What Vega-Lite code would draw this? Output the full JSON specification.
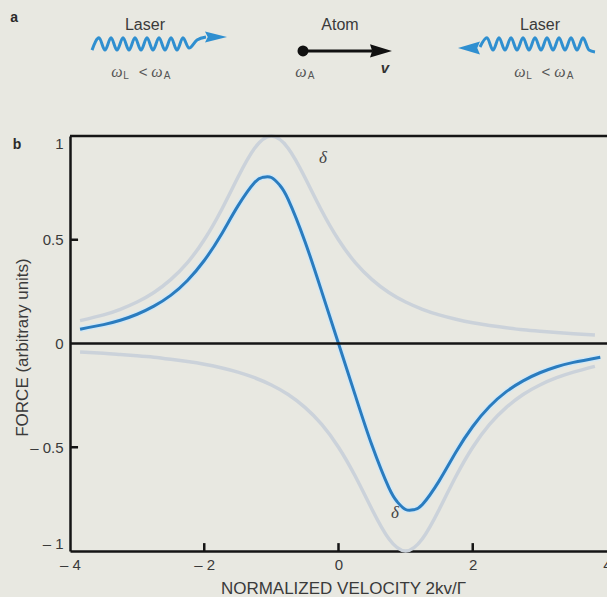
{
  "$schema": "https://vega.github.io/schema/vega-lite/v6.json",
  "autosize": {"type": "none"},
  "padding": {"left": 70, "top": 136, "right": 0, "bottom": 46},
  "width": 537,
  "height": 415,
  "background": "#e8e8e1",
  "config": {"view": {"stroke": null}, "font": "Liberation Sans"},
  "datasets": {
    "curves": [
      {"v": -3.85, "f": 0.110, "c": "plus"}, {"v": -3.5, "f": 0.138, "c": "plus"}, {"v": -3.25, "f": 0.165, "c": "plus"}, {"v": -3, "f": 0.200, "c": "plus"}, {"v": -2.75, "f": 0.246, "c": "plus"}, {"v": -2.5, "f": 0.308, "c": "plus"}, {"v": -2.25, "f": 0.390, "c": "plus"}, {"v": -2, "f": 0.500, "c": "plus"}, {"v": -1.75, "f": 0.640, "c": "plus"}, {"v": -1.5, "f": 0.800, "c": "plus"}, {"v": -1.25, "f": 0.941, "c": "plus"}, {"v": -1, "f": 1.0, "c": "plus"}, {"v": -0.75, "f": 0.941, "c": "plus"}, {"v": -0.5, "f": 0.800, "c": "plus"}, {"v": -0.25, "f": 0.640, "c": "plus"}, {"v": 0, "f": 0.500, "c": "plus"}, {"v": 0.25, "f": 0.390, "c": "plus"}, {"v": 0.5, "f": 0.308, "c": "plus"}, {"v": 0.75, "f": 0.246, "c": "plus"}, {"v": 1, "f": 0.200, "c": "plus"}, {"v": 1.25, "f": 0.165, "c": "plus"}, {"v": 1.5, "f": 0.138, "c": "plus"}, {"v": 1.75, "f": 0.117, "c": "plus"}, {"v": 2, "f": 0.100, "c": "plus"}, {"v": 2.25, "f": 0.087, "c": "plus"}, {"v": 2.5, "f": 0.076, "c": "plus"}, {"v": 2.75, "f": 0.066, "c": "plus"}, {"v": 3, "f": 0.059, "c": "plus"}, {"v": 3.25, "f": 0.053, "c": "plus"}, {"v": 3.5, "f": 0.047, "c": "plus"}, {"v": 3.82, "f": 0.041, "c": "plus"},
      {"v": -3.85, "f": -0.041, "c": "minus"}, {"v": -3.5, "f": -0.047, "c": "minus"}, {"v": -3.25, "f": -0.053, "c": "minus"}, {"v": -3, "f": -0.059, "c": "minus"}, {"v": -2.75, "f": -0.066, "c": "minus"}, {"v": -2.5, "f": -0.076, "c": "minus"}, {"v": -2.25, "f": -0.087, "c": "minus"}, {"v": -2, "f": -0.100, "c": "minus"}, {"v": -1.75, "f": -0.117, "c": "minus"}, {"v": -1.5, "f": -0.138, "c": "minus"}, {"v": -1.25, "f": -0.165, "c": "minus"}, {"v": -1, "f": -0.200, "c": "minus"}, {"v": -0.75, "f": -0.246, "c": "minus"}, {"v": -0.5, "f": -0.308, "c": "minus"}, {"v": -0.25, "f": -0.390, "c": "minus"}, {"v": 0, "f": -0.500, "c": "minus"}, {"v": 0.25, "f": -0.640, "c": "minus"}, {"v": 0.5, "f": -0.800, "c": "minus"}, {"v": 0.75, "f": -0.941, "c": "minus"}, {"v": 1, "f": -1.0, "c": "minus"}, {"v": 1.25, "f": -0.941, "c": "minus"}, {"v": 1.5, "f": -0.800, "c": "minus"}, {"v": 1.75, "f": -0.640, "c": "minus"}, {"v": 2, "f": -0.500, "c": "minus"}, {"v": 2.25, "f": -0.390, "c": "minus"}, {"v": 2.5, "f": -0.308, "c": "minus"}, {"v": 2.75, "f": -0.246, "c": "minus"}, {"v": 3, "f": -0.200, "c": "minus"}, {"v": 3.25, "f": -0.165, "c": "minus"}, {"v": 3.5, "f": -0.138, "c": "minus"}, {"v": 3.82, "f": -0.110, "c": "minus"},
      {"v": -3.85, "f": 0.069, "c": "net"}, {"v": -3.5, "f": 0.091, "c": "net"}, {"v": -3.25, "f": 0.112, "c": "net"}, {"v": -3, "f": 0.141, "c": "net"}, {"v": -2.75, "f": 0.180, "c": "net"}, {"v": -2.5, "f": 0.232, "c": "net"}, {"v": -2.25, "f": 0.304, "c": "net"}, {"v": -2, "f": 0.400, "c": "net"}, {"v": -1.75, "f": 0.523, "c": "net"}, {"v": -1.5, "f": 0.662, "c": "net"}, {"v": -1.25, "f": 0.776, "c": "net"}, {"v": -1.125, "f": 0.801, "c": "net"}, {"v": -1, "f": 0.800, "c": "net"}, {"v": -0.875, "f": 0.763, "c": "net"}, {"v": -0.75, "f": 0.695, "c": "net"}, {"v": -0.5, "f": 0.492, "c": "net"}, {"v": -0.25, "f": 0.250, "c": "net"}, {"v": 0, "f": 0.0, "c": "net"}, {"v": 0.25, "f": -0.250, "c": "net"}, {"v": 0.5, "f": -0.492, "c": "net"}, {"v": 0.75, "f": -0.695, "c": "net"}, {"v": 0.875, "f": -0.763, "c": "net"}, {"v": 1, "f": -0.800, "c": "net"}, {"v": 1.125, "f": -0.801, "c": "net"}, {"v": 1.25, "f": -0.776, "c": "net"}, {"v": 1.5, "f": -0.662, "c": "net"}, {"v": 1.75, "f": -0.523, "c": "net"}, {"v": 2, "f": -0.400, "c": "net"}, {"v": 2.25, "f": -0.304, "c": "net"}, {"v": 2.5, "f": -0.232, "c": "net"}, {"v": 2.75, "f": -0.180, "c": "net"}, {"v": 3, "f": -0.141, "c": "net"}, {"v": 3.25, "f": -0.112, "c": "net"}, {"v": 3.5, "f": -0.091, "c": "net"}, {"v": 3.9, "f": -0.066, "c": "net"}
    ],
    "waves": [
      {"v": -3.672, "f": 1.414, "w": "left"}, {"v": -3.568, "f": 1.473, "w": "left"}, {"v": -3.479, "f": 1.414, "w": "left"}, {"v": -3.389, "f": 1.473, "w": "left"}, {"v": -3.300, "f": 1.414, "w": "left"}, {"v": -3.210, "f": 1.473, "w": "left"}, {"v": -3.121, "f": 1.414, "w": "left"}, {"v": -3.032, "f": 1.473, "w": "left"}, {"v": -2.942, "f": 1.414, "w": "left"}, {"v": -2.853, "f": 1.473, "w": "left"}, {"v": -2.764, "f": 1.414, "w": "left"}, {"v": -2.674, "f": 1.473, "w": "left"}, {"v": -2.585, "f": 1.414, "w": "left"}, {"v": -2.495, "f": 1.473, "w": "left"}, {"v": -2.406, "f": 1.414, "w": "left"}, {"v": -2.317, "f": 1.473, "w": "left"}, {"v": -2.227, "f": 1.424, "w": "left"}, {"v": -2.108, "f": 1.463, "w": "left"}, {"v": -1.974, "f": 1.477, "w": "left"},
      {"v": 2.108, "f": 1.429, "w": "right"}, {"v": 2.212, "f": 1.473, "w": "right"}, {"v": 2.302, "f": 1.414, "w": "right"}, {"v": 2.391, "f": 1.473, "w": "right"}, {"v": 2.480, "f": 1.414, "w": "right"}, {"v": 2.570, "f": 1.473, "w": "right"}, {"v": 2.659, "f": 1.414, "w": "right"}, {"v": 2.749, "f": 1.473, "w": "right"}, {"v": 2.838, "f": 1.414, "w": "right"}, {"v": 2.927, "f": 1.473, "w": "right"}, {"v": 3.017, "f": 1.414, "w": "right"}, {"v": 3.106, "f": 1.473, "w": "right"}, {"v": 3.196, "f": 1.414, "w": "right"}, {"v": 3.285, "f": 1.473, "w": "right"}, {"v": 3.374, "f": 1.414, "w": "right"}, {"v": 3.464, "f": 1.473, "w": "right"}, {"v": 3.553, "f": 1.414, "w": "right"}, {"v": 3.642, "f": 1.473, "w": "right"}, {"v": 3.732, "f": 1.414, "w": "right"}, {"v": 3.821, "f": 1.405, "w": "right"}
    ],
    "ticks": [
      {"v": -2, "f": -1, "f2": -0.962}, {"v": 0, "f": -1, "f2": -0.962}, {"v": 2, "f": -1, "f2": -0.962}
    ],
    "yticks": [
      {"v": -4, "v2": -3.88, "f": 0.5}, {"v": -4, "v2": -3.88, "f": -0.5}
    ]
  },
  "encoding": {
    "x": {"field": "v", "type": "quantitative", "title": "NORMALIZED VELOCITY 2kv/Γ"},
    "y": {"field": "f", "type": "quantitative", "title": "FORCE (arbitrary units)"}
  },
  "layer": [
    {
      "data": {"name": "curves"},
      "transform": [{"filter": "datum.c !== 'net'"}],
      "mark": {"type": "line", "color": "#cbd2da", "strokeWidth": 3.5, "interpolate": "natural"},
      "encoding": {
        "x": {
          "field": "v", "type": "quantitative",
          "scale": {"domain": [-4, 4], "nice": false},
          "title": "NORMALIZED VELOCITY 2kv/Γ",
          "axis": {
            "values": [-4, -2, 0, 2, 4],
            "labelExpr": "datum.value < 0 ? '– ' + format(abs(datum.value), '.0f') : format(datum.value, '.0f')",
            "grid": false,
            "domainColor": "#151515", "domainWidth": 2.5,
            "ticks": false,
            "labelPadding": 6, "labelFontSize": 15, "labelColor": "#3a3a3a", "labelFlush": false,
            "titleFontSize": 17, "titleFontWeight": "normal", "titleColor": "#3a3a3a",
            "titleX": 273, "titleY": 42, "titleBaseline": "alphabetic"
          }
        },
        "y": {
          "field": "f", "type": "quantitative",
          "scale": {"domain": [-1, 1], "nice": false},
          "title": "FORCE (arbitrary units)",
          "axis": {
            "values": [-1, -0.5, 0, 0.5, 1],
            "labelExpr": "datum.value < 0 ? '– ' + format(abs(datum.value), '.1~f') : format(datum.value, '.1~f')",
            "grid": false,
            "domainColor": "#151515", "domainWidth": 2.5,
            "ticks": false,
            "labelPadding": 7, "labelFontSize": 15, "labelColor": "#3a3a3a", "labelFlush": true,
            "titleFontSize": 17, "titleFontWeight": "normal", "titleColor": "#3a3a3a",
            "titleX": -43, "titleY": 211, "titleBaseline": "alphabetic", "titleAngle": -90
          }
        },
        "detail": {"field": "c"}
      }
    },
    {
      "data": {"name": "curves"},
      "transform": [{"filter": "datum.c === 'net'"}],
      "mark": {"type": "line", "color": "#d3e8f5", "strokeWidth": 6, "interpolate": "natural"}
    },
    {
      "data": {"name": "curves"},
      "transform": [{"filter": "datum.c === 'net'"}],
      "mark": {"type": "line", "color": "#2a7cbf", "strokeWidth": 3, "interpolate": "natural"}
    },
    {
      "data": {"values": [{"f": 1}, {"f": 0}]},
      "mark": {"type": "rule", "color": "#151515", "strokeWidth": 2.5},
      "encoding": {
        "x": {"value": 0},
        "x2": {"value": 537}
      }
    },
    {
      "data": {"name": "ticks"},
      "mark": {"type": "rule", "color": "#151515", "strokeWidth": 2.5},
      "encoding": {"y2": {"field": "f2"}}
    },
    {
      "data": {"name": "yticks"},
      "mark": {"type": "rule", "color": "#151515", "strokeWidth": 2.5},
      "encoding": {"x2": {"field": "v2"}}
    },
    {
      "data": {"values": [{"v": -0.231, "f": 0.894, "t": "δ"}, {"v": 0.842, "f": -0.817, "t": "δ"}]},
      "mark": {"type": "text", "font": "Liberation Serif", "fontStyle": "italic", "fontSize": 17, "color": "#444444", "baseline": "middle"},
      "encoding": {"text": {"field": "t"}}
    },
    {
      "data": {"values": [{"v": -4.79, "f": 0.957, "t": "b"}, {"v": -4.834, "f": 1.569, "t": "a"}]},
      "mark": {"type": "text", "fontSize": 14, "fontWeight": "bold", "color": "#2a2a2a", "baseline": "middle"},
      "encoding": {"text": {"field": "t"}}
    },
    {
      "data": {"values": [{"v": -2.883, "f": 1.535, "t": "Laser"}, {"v": 0.022, "f": 1.535, "t": "Atom"}, {"v": 3.002, "f": 1.535, "t": "Laser"}]},
      "mark": {"type": "text", "fontSize": 16, "color": "#3a3a3a", "baseline": "middle"},
      "encoding": {"text": {"field": "t"}}
    },
    {
      "data": {"name": "waves"},
      "mark": {"type": "line", "color": "#2f8fd0", "strokeWidth": 3, "interpolate": "monotone"},
      "encoding": {"detail": {"field": "w"}}
    },
    {
      "data": {"values": [{"v": -1.825, "f": 1.477}]},
      "mark": {"type": "point", "shape": "M 1 0 L -1 -0.5 L -0.75 0 L -1 0.5 Z", "filled": true, "size": 484, "color": "#2f8fd0", "opacity": 1}
    },
    {
      "data": {"values": [{"v": 1.944, "f": 1.424}]},
      "mark": {"type": "point", "shape": "M -1 0 L 1 -0.6 L 0.75 0 L 1 0.6 Z", "filled": true, "size": 484, "color": "#2f8fd0", "opacity": 1}
    },
    {
      "data": {"values": [{"v": -0.529, "f": 1.41}, {"v": 0.5, "f": 1.41}]},
      "mark": {"type": "line", "color": "#111111", "strokeWidth": 3}
    },
    {
      "data": {"values": [{"v": -0.529, "f": 1.41}]},
      "mark": {"type": "point", "shape": "circle", "filled": true, "size": 120, "color": "#111111", "opacity": 1}
    },
    {
      "data": {"values": [{"v": 0.633, "f": 1.41}]},
      "mark": {"type": "point", "shape": "M 1 0 L -1 -0.6 L -0.8 0 L -1 0.6 Z", "filled": true, "size": 484, "color": "#111111", "opacity": 1}
    },
    {
      "data": {"values": [{"v": -3.30, "f": 1.309, "t": "ω"}, {"v": -2.704, "f": 1.309, "t": "ω"}, {"v": 2.704, "f": 1.309, "t": "ω"}, {"v": 3.30, "f": 1.309, "t": "ω"}, {"v": -0.559, "f": 1.309, "t": "ω"}]},
      "mark": {"type": "text", "font": "Liberation Serif", "fontStyle": "italic", "fontSize": 16, "color": "#555555", "baseline": "middle"},
      "encoding": {"text": {"field": "t"}}
    },
    {
      "data": {"values": [{"v": -3.166, "f": 1.287, "t": "L"}, {"v": -2.555, "f": 1.287, "t": "A"}, {"v": 2.838, "f": 1.287, "t": "L"}, {"v": 3.449, "f": 1.287, "t": "A"}, {"v": -0.41, "f": 1.287, "t": "A"}]},
      "mark": {"type": "text", "fontSize": 10, "color": "#555555", "baseline": "middle"},
      "encoding": {"text": {"field": "t"}}
    },
    {
      "data": {"values": [{"v": -2.912, "f": 1.309, "t": "<"}, {"v": 3.091, "f": 1.309, "t": "<"}]},
      "mark": {"type": "text", "fontSize": 15, "color": "#555555", "baseline": "middle"},
      "encoding": {"text": {"field": "t"}}
    },
    {
      "data": {"values": [{"v": 0.693, "f": 1.328, "t": "v"}]},
      "mark": {"type": "text", "fontSize": 15, "fontStyle": "italic", "fontWeight": "bold", "color": "#333333", "baseline": "middle"},
      "encoding": {"text": {"field": "t"}}
    }
  ]
}
